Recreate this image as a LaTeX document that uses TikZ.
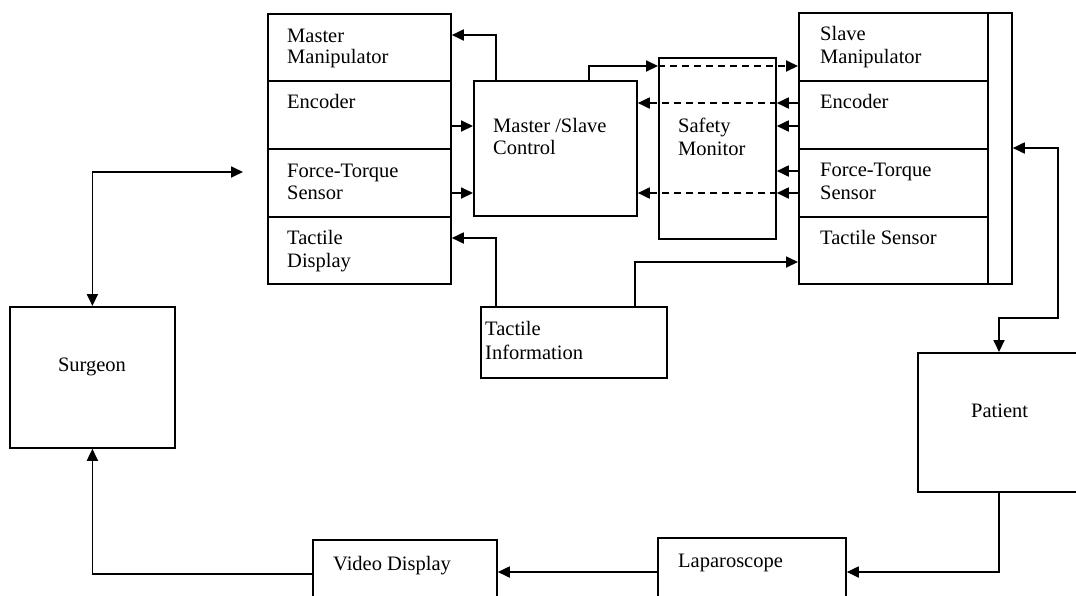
\documentclass[tikz,border=0pt]{standalone}
\usepackage{fontspec}
\setmainfont{Liberation Serif}
\usetikzlibrary{arrows.meta}
\begin{document}
\begin{tikzpicture}[x=1pt,y=-1pt,
  box/.style={draw, line width=1.8pt, inner sep=0pt, anchor=north west},
  lbl/.style={anchor=base west, inner sep=0pt, font=\fontsize{20.5}{22}\selectfont},
  arr/.style={line width=1.8pt, -{Triangle[length=12pt,width=11pt]}},
  darr/.style={line width=1.8pt, {Triangle[length=12pt,width=11pt]}-{Triangle[length=12pt,width=11pt]}},
  dsh/.style={dash pattern=on 7pt off 5pt}]
\useasboundingbox (0,0) rectangle (1076,595);
\clip (0,0) rectangle (1076,595);
% master side
\node[box, minimum width=183pt, minimum height=67pt] (mm) at (267,13) {};
\node[box, minimum width=183pt, minimum height=68pt] (menc) at (267,80) {};
\node[box, minimum width=183pt, minimum height=68pt] (mft) at (267,148) {};
\node[box, minimum width=183pt, minimum height=67pt] (mtd) at (267,216) {};
% control and monitor
\node[box, minimum width=163pt, minimum height=135pt] (ctrl) at (473,80) {};
\node[box, minimum width=117pt, minimum height=181pt] (sm) at (658,57) {};
% slave side
\node[box, minimum width=189pt, minimum height=68pt] (sman) at (798,12) {};
\node[box, minimum width=189pt, minimum height=68pt] (senc) at (798,80) {};
\node[box, minimum width=189pt, minimum height=68pt] (sft) at (798,148) {};
\node[box, minimum width=189pt, minimum height=67pt] (sts) at (798,216) {};
\node[box, minimum width=24pt, minimum height=271pt] (strip) at (987,12) {};
% others
\node[box, minimum width=186pt, minimum height=71pt] (ti) at (480,306) {};
\node[box, minimum width=165pt, minimum height=141pt] (surg) at (9,306) {};
\node[box, minimum width=184pt, minimum height=70pt] (vd) at (312,539) {};
\node[box, minimum width=188pt, minimum height=70pt] (lap) at (657,537) {};
\node[box, minimum width=175pt, minimum height=139pt] (pat) at (917,352) {};
% labels
\node[lbl] (l1a) at (287,42) {Master};
\node[lbl] (l1b) at (287,63) {Manipulator};
\node[lbl] (l2) at (287,108) {Encoder};
\node[lbl] (l3a) at (287,177) {Force-Torque};
\node[lbl] (l3b) at (287,199) {Sensor};
\node[lbl] (l4a) at (287,244) {Tactile};
\node[lbl] (l4b) at (287,267) {Display};
\node[lbl] (l5a) at (493,132) {Master /Slave};
\node[lbl] (l5b) at (493,154) {Control};
\node[lbl] (l6a) at (678,132) {Safety};
\node[lbl] (l6b) at (678,155) {Monitor};
\node[lbl] (l7a) at (820,40) {Slave};
\node[lbl] (l7b) at (820,63) {Manipulator};
\node[lbl] (l8) at (820,108) {Encoder};
\node[lbl] (l9a) at (820,176) {Force-Torque};
\node[lbl] (l9b) at (820,199) {Sensor};
\node[lbl] (l10) at (820,244) {Tactile Sensor};
\node[lbl, anchor=base] (l11) at (92,371) {Surgeon};
\node[lbl] (l12a) at (485,335) {Tactile};
\node[lbl] (l12b) at (485,359) {Information};
\node[lbl] (l13) at (333,570) {Video Display};
\node[lbl] (l14) at (971,417) {Patient};
\node[lbl] (l15) at (678,567) {Laparoscope};
% coordinates
\coordinate (e1) at ([yshift=-46pt]menc.north east);
\coordinate (f1) at ([yshift=-45pt]mft.north east);
\coordinate (t1) at ([xshift=16pt]ti.north west);
\coordinate (t2) at ([yshift=-22pt]mtd.north east);
\coordinate (c0) at ([xshift=23pt]ctrl.north west);
\coordinate (m0) at ([yshift=-22pt]mm.north east);
\coordinate (c1) at ([xshift=116pt]ctrl.north west);
\coordinate (s1) at ([yshift=-54pt]sman.north west);
\coordinate (s2) at ([yshift=-23pt]senc.north west);
\coordinate (s3) at ([yshift=-46pt]senc.north west);
\coordinate (s4) at ([yshift=-23pt]sft.north west);
\coordinate (s5) at ([yshift=-45pt]sft.north west);
\coordinate (t3) at ([xshift=155pt]ti.north west);
\coordinate (t4) at ([yshift=-46pt]sts.north west);
\coordinate (r0) at ([yshift=-136pt]strip.north east);
\coordinate (r1) at (1058,148);
\coordinate (r2) at (1058,318);
\coordinate (p0) at ([xshift=82pt]pat.north west);
\coordinate (p1) at ([xshift=82pt]pat.south west);
\coordinate (sa) at (243,172);
\coordinate (v1) at ([yshift=-35pt]vd.north west);
\coordinate (q1) at ([yshift=-35pt]lap.north west);
% connectors
\draw[arr] (c0) |- (m0);
\draw[arr] (e1) -- (e1 -| ctrl.west);
\draw[arr] (f1) -- (f1 -| ctrl.west);
\draw[arr] (t1) |- (t2);
\draw[arr] (c1) |- (s1 -| sm.west);
\draw[arr,dsh] (s1 -| sm.west) -- (s1);
\draw[arr] (s2) -- (s2 -| sm.east);
\draw[arr,dsh] (s2 -| sm.east) -- (s2 -| ctrl.east);
\draw[arr] (s3) -- (s3 -| sm.east);
\draw[arr] (s4) -- (s4 -| sm.east);
\draw[arr] (s5) -- (s5 -| sm.east);
\draw[arr,dsh] (s5 -| sm.east) -- (s5 -| ctrl.east);
\draw[arr] (t3) |- (t4);
\draw[darr] (r0) -- (r1) -- (r2) -| (p0);
\draw[darr] (sa) -| (surg.north);
\draw[arr] (v1) -| (surg.south);
\draw[arr] (q1) -- (q1 -| vd.east);
\draw[arr] (p1) |- (q1 -| lap.east);
\end{tikzpicture}
\end{document}
